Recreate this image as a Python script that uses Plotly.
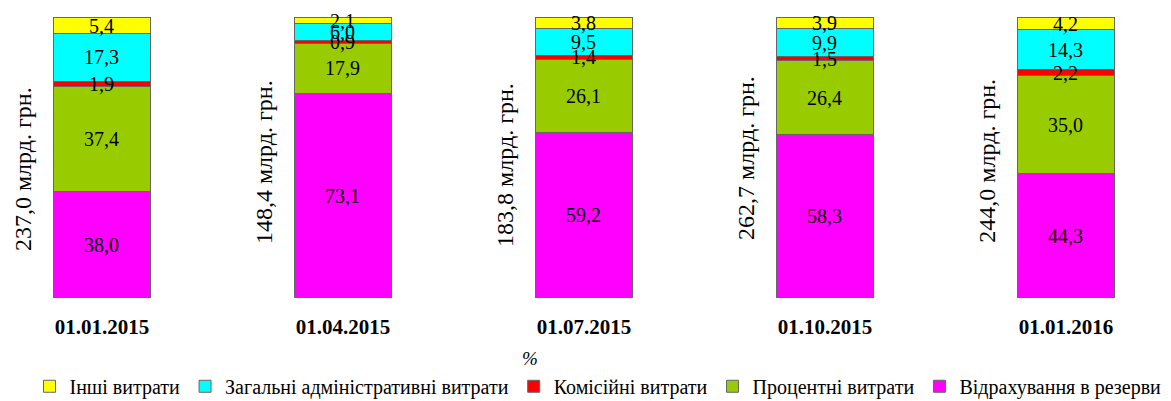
import plotly.graph_objects as go

dates = ["01.01.2015", "01.04.2015", "01.07.2015", "01.10.2015", "01.01.2016"]
totals = ["237,0 млрд. грн.", "148,4 млрд. грн.", "183,8 млрд. грн.", "262,7 млрд. грн.", "244,0 млрд. грн."]

reserves = [38.0, 73.1, 59.2, 58.3, 44.3]
interest = [37.4, 17.9, 26.1, 26.4, 35.0]
commission = [1.9, 0.9, 1.4, 1.5, 2.2]
admin = [17.3, 6.0, 9.5, 9.9, 14.3]
other = [5.4, 2.1, 3.8, 3.9, 4.2]

series = [
    ("Відрахування в резерви", reserves, "#FF00FF"),
    ("Процентні витрати", interest, "#99CC00"),
    ("Комісійні витрати", commission, "#FF0000"),
    ("Загальні адміністративні витрати", admin, "#00FFFF"),
    ("Інші витрати", other, "#FFFF00"),
]

FONT = "Liberation Serif, Times New Roman, serif"

fig = go.Figure()
base = [0.0] * len(dates)
for name, vals, color in series:
    fig.add_trace(go.Bar(
        x=dates, y=vals, name=name,
        marker=dict(color=color, line=dict(color="#666666", width=1)),
        width=0.4, hoverinfo="name+y",
    ))
    for i, v in enumerate(vals):
        fig.add_annotation(x=i, y=base[i] + v / 2, xref="x", yref="y",
                           text=f"{v:.1f}".replace(".", ","), showarrow=False,
                           font=dict(family=FONT, size=20, color="black"))
        base[i] += v

label_y = [46, 48.5, 47.5, 50, 49]
for i, t in enumerate(totals):
    fig.add_annotation(x=i - 0.328, y=label_y[i], xref="x", yref="y", text=t,
                       textangle=-90, showarrow=False,
                       font=dict(family=FONT, size=24, color="black"))

fig.add_annotation(x=522 / 1163, y=-0.26, xref="paper", yref="paper", text="<i>%</i>",
                   showarrow=False, font=dict(family=FONT, size=19, color="black"))

fig.update_layout(
    width=1163, height=393,
    margin=dict(l=0, r=0, t=8, b=103, autoexpand=False),
    barmode="stack",
    plot_bgcolor="white", paper_bgcolor="white",
    showlegend=True,
    legend=dict(orientation="h", traceorder="reversed", x=590 / 1163, xanchor="center",
                y=-0.313, yanchor="middle",
                font=dict(family=FONT, size=20, color="black"),
                itemwidth=30, tracegroupgap=0),
    xaxis=dict(range=[-0.390, 4.436], showgrid=False, showline=False, ticks="",
               automargin=False,
               tickfont=dict(family=FONT, size=21, color="black"),
               tickprefix="<b>", ticksuffix="</b>", ticklabelstandoff=14),
    yaxis=dict(range=[0, 100.7], visible=False, automargin=False),
)

fig.write_html("out.html")
